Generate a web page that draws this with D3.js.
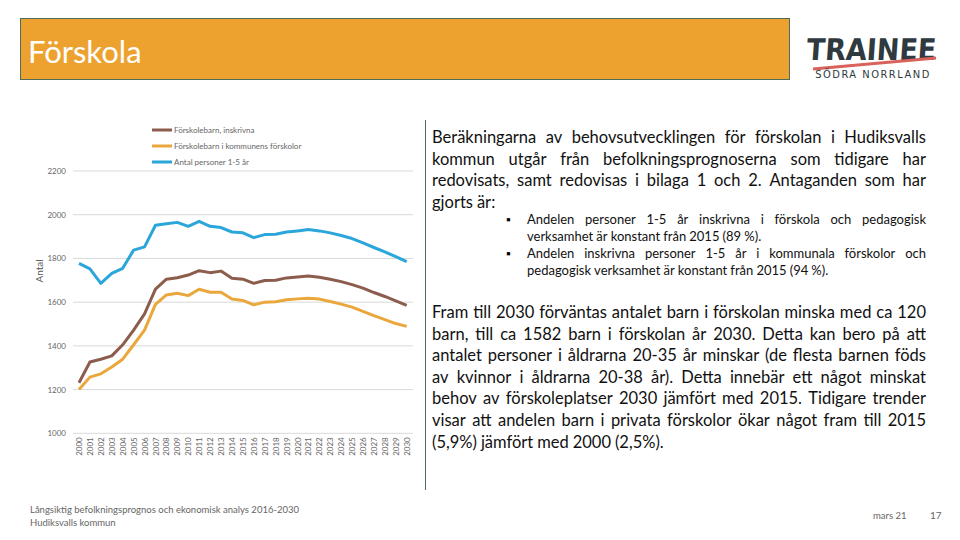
<!DOCTYPE html>
<html><head><meta charset="utf-8">
<script src="https://cdn.jsdelivr.net/npm/d3@7"></script>
<style>body{margin:0;background:#fff}svg{display:block}</style>
</head><body>
<svg id="c" width="960" height="540"></svg>
<script>
const years = d3.range(2000, 2031);
const inskrivna = [1231,1326,1339,1354,1405,1472,1546,1660,1705,1712,1724,1744,1735,1742,1709,1705,1686,1699,1700,1711,1715,1720,1714,1705,1694,1680,1664,1644,1626,1606,1585];
const kommunens = [1200,1257,1272,1303,1339,1405,1472,1590,1633,1641,1630,1659,1645,1645,1614,1608,1588,1600,1602,1611,1615,1618,1614,1603,1591,1577,1558,1538,1520,1502,1489];
const personer = [1777,1752,1686,1732,1755,1838,1853,1952,1959,1965,1947,1970,1947,1941,1921,1917,1895,1909,1911,1921,1926,1932,1926,1917,1905,1891,1871,1850,1830,1808,1785];
const seriesNames = ["Förskolebarn, inskrivna","Förskolebarn i kommunens förskolor","Antal personer 1-5 år"];
const yTicks = [1000,1200,1400,1600,1800,2000,2200];

const colors = ["#8C5C4C","#E9A73C","#2AA6DA"];
const svg = d3.select("#c");

// Title bar
svg.append("rect").attr("x",20.5).attr("y",18.5).attr("width",769).attr("height",61)
  .attr("fill","#EDA230").attr("stroke","#4E6B5E").attr("stroke-width",1);
svg.append("text").attr("x",28).attr("y",63).text("Förskola")
  .attr("font-family","Lato, 'Open Sans', sans-serif").attr("font-size",31).attr("fill","#fff");

// Logo
svg.append("text").attr("x",871).attr("y",60).attr("text-anchor","middle")
  .attr("font-family","'DejaVu Sans Condensed','Liberation Sans Narrow',sans-serif").attr("font-weight","bold")
  .attr("font-size",30).attr("fill","#2E3A40").attr("transform","skewX(-4) translate(4,0)")
  .text("TRAINEE");
svg.append("line").attr("x1",813).attr("y1",69).attr("x2",936).attr("y2",58)
  .attr("stroke","#D9625A").attr("stroke-width",3);
svg.append("text").attr("x",873).attr("y",78).attr("text-anchor","middle")
  .attr("font-family","'DejaVu Sans Condensed',sans-serif").attr("font-size",11).attr("letter-spacing",1.5)
  .attr("fill","#2E3A40").text("SÖDRA NORRLAND");

// Chart
const x = d3.scalePoint().domain(years).range([79, 406.7]);
const y = d3.scaleLinear().domain([1000, 2200]).range([433.3, 171]);
const gGrid = svg.append("g");
yTicks.forEach(t => {
  gGrid.append("line").attr("x1",73).attr("x2",413).attr("y1",y(t)).attr("y2",y(t))
    .attr("stroke","#D9D9D9").attr("stroke-width",1);
});
const yAxis = svg.append("g").attr("transform","translate(73,0)")
  .call(d3.axisLeft(y).tickValues(yTicks).tickSize(0).tickPadding(7).tickFormat(d3.format("d")));
yAxis.select(".domain").remove();
yAxis.selectAll("text").attr("font-family","Lato, sans-serif").attr("font-size",8).attr("fill","#666");

const xAxis = svg.append("g").attr("transform","translate(0,433.3)")
  .call(d3.axisBottom(x).tickSize(0).tickFormat(d3.format("d")));
xAxis.select(".domain").remove();
xAxis.selectAll("text").attr("font-family","Lato, sans-serif").attr("font-size",8).attr("fill","#666")
  .attr("text-anchor","end").attr("dy","0.32em")
  .attr("transform", "translate(0,4) rotate(-90)").attr("x",0).attr("y",0);

svg.append("text").attr("transform","translate(43,271) rotate(-90)").attr("text-anchor","middle")
  .attr("font-family","Lato, sans-serif").attr("font-size",10).attr("fill","#555").text("Antal");

const line = d3.line().x((d,i)=>x(years[i])).y(d=>y(d));
[[personer,2],[kommunens,1],[inskrivna,0]].forEach(([s,ci]) => {
  svg.append("path").datum(s).attr("d",line).attr("fill","none")
    .attr("stroke",colors[ci]).attr("stroke-width",3).attr("stroke-linejoin","round");
});

// Legend
seriesNames.forEach((n,i) => {
  const ly = 130 + i*16;
  svg.append("line").attr("x1",152).attr("x2",172).attr("y1",ly).attr("y2",ly)
    .attr("stroke",colors[i]).attr("stroke-width",3);
  svg.append("text").attr("x",174).attr("y",ly+3).text(n)
    .attr("font-family","Lato, sans-serif").attr("font-size",8).attr("fill","#666");
});

// Divider line
svg.append("line").attr("x1",425.5).attr("x2",425.5).attr("y1",120).attr("y2",490)
  .attr("stroke","#4E6B5E").attr("stroke-width",1);

// Justified text (word by word)
const font = "Lato, 'Open Sans', sans-serif";
function justifyLine(str, x0, x1, yy, size, justify) {
  const g = svg.append("g");
  const words = str.split(" ");
  const nodes = words.map(w => g.append("text").attr("y",yy).attr("font-family",font)
    .attr("font-size",size).attr("fill","#111").text(w));
  const widths = nodes.map(s => s.node().getComputedTextLength());
  const total = d3.sum(widths);
  const spaceW = size*0.24;
  let gap = justify && words.length>1 ? (x1-x0-total)/(words.length-1) : spaceW;
  if (gap < size*0.15) gap = size*0.15;
  let cx = x0;
  nodes.forEach((s,i)=>{ s.attr("x",cx); cx += widths[i] + gap; });
}
const para1 = ["Beräkningarna av behovsutvecklingen för förskolan i Hudiksvalls",
  "kommun utgår från befolkningsprognoserna som tidigare har",
  "redovisats, samt redovisas i bilaga 1 och 2. Antaganden som har",
  "gjorts är:"];
para1.forEach((l,i)=>justifyLine(l,432,926,143+i*21.6,16.5,i<para1.length-1));

const bullets = [["Andelen personer 1-5 år inskrivna i förskola och pedagogisk","verksamhet är konstant från 2015 (89 %)."],
  ["Andelen inskrivna personer 1-5 år i kommunala förskolor och","pedagogisk verksamhet är konstant från 2015 (94 %)."]];
let by = 224;
bullets.forEach(b => {
  svg.append("text").attr("x",506).attr("y",by).attr("font-family",font).attr("font-size",12).text("▪");
  b.forEach((l,i)=>{ justifyLine(l,527,926,by,13,i<b.length-1); by += 17; });
});

const para2 = ["Fram till 2030 förväntas antalet barn i förskolan minska med ca 120",
  "barn, till ca 1582 barn i förskolan år 2030. Detta kan bero på att",
  "antalet personer i åldrarna 20-35 år minskar (de flesta barnen föds",
  "av kvinnor i åldrarna 20-38 år). Detta innebär ett något minskat",
  "behov av förskoleplatser 2030 jämfört med 2015. Tidigare trender",
  "visar att andelen barn i privata förskolor ökar något fram till 2015",
  "(5,9%) jämfört med 2000 (2,5%)."];
para2.forEach((l,i)=>justifyLine(l,432,926,318+i*21.6,16.5,i<para2.length-1));

// Footer
svg.append("text").attr("x",30).attr("y",513).attr("font-family",font).attr("font-size",9.5).attr("fill","#666")
  .text("Långsiktig befolkningsprognos och ekonomisk analys 2016-2030");
svg.append("text").attr("x",30).attr("y",526).attr("font-family",font).attr("font-size",9.5).attr("fill","#666")
  .text("Hudiksvalls kommun");
svg.append("text").attr("x",873).attr("y",519).attr("font-family",font).attr("font-size",9.5).attr("fill","#666").text("mars 21");
svg.append("text").attr("x",930).attr("y",519).attr("font-family",font).attr("font-size",10).attr("fill","#666").text("17");
</script>
</body></html>
